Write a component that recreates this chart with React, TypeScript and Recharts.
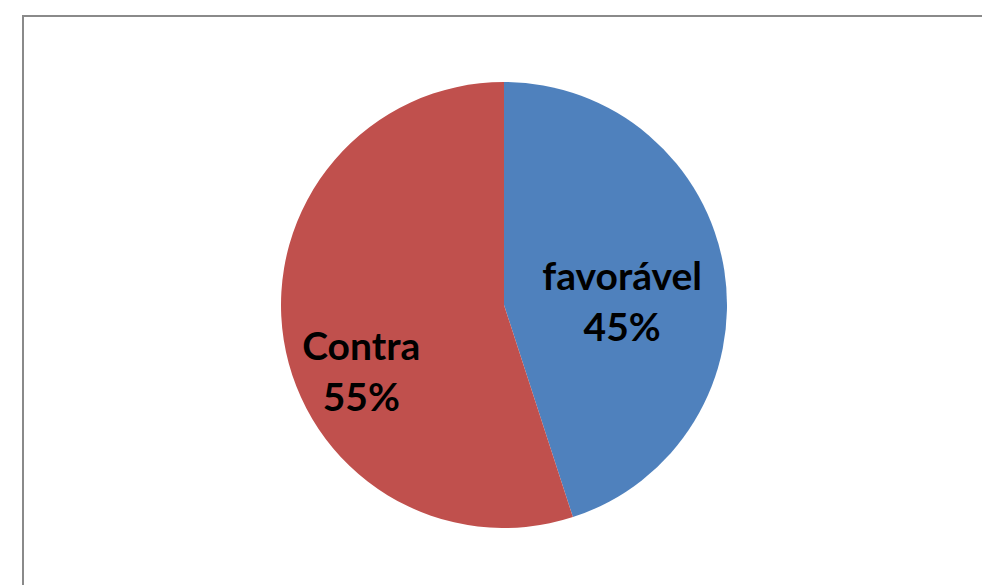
import { PieChart, Pie, Cell } from 'recharts';

const categories = ['favorável', 'Contra'];
const shares = [45, 55];
const percentLabels = ['45%', '55%'];

const COLORS = ['#4F81BD', '#C0504D'];
// label placement as a fraction of the radius, per slice
const LABEL_POS = [
  { fx: 0.53, fy: -0.013 },
  { fx: -0.64, fy: 0.3 },
];

const data = categories.map((name, i) => ({ name, value: shares[i], pct: percentLabels[i] }));

const renderLabel = (props: any) => {
  const { cx, cy, outerRadius, index } = props;
  const pos = LABEL_POS[index];
  const x = cx + outerRadius * pos.fx;
  const y = cy + outerRadius * pos.fy;
  return (
    <text
      x={x}
      y={y}
      textAnchor="middle"
      fill="#000"
      fontFamily="Lato, sans-serif"
      fontWeight="bold"
      fontSize={39}
    >
      <tspan x={x} dy={-12}>{data[index].name}</tspan>
      <tspan x={x} dy={51}>{data[index].pct}</tspan>
    </text>
  );
};

export default function App() {
  return (
    <div style={{ position: 'absolute', left: 0, top: 0, width: 982, height: 585, overflow: 'hidden', background: '#fff' }}>
      <div
        style={{
          position: 'absolute',
          left: 22,
          top: 15,
          width: 1000,
          height: 620,
          border: '2px solid #8a8a8a',
          boxSizing: 'border-box',
        }}
      />
      <div style={{ position: 'absolute', left: 0, top: 0 }}>
        <PieChart width={982} height={585} margin={{ top: 0, right: 0, bottom: 0, left: 0 }}>
          <Pie
            data={data}
            dataKey="value"
            nameKey="name"
            cx={504}
            cy={305}
            outerRadius={223}
            startAngle={90}
            endAngle={-270}
            stroke="none"
            label={renderLabel}
            labelLine={false}
            isAnimationActive={false}
          >
            {data.map((d, i) => (
              <Cell key={d.name} fill={COLORS[i]} />
            ))}
          </Pie>
        </PieChart>
      </div>
    </div>
  );
}
